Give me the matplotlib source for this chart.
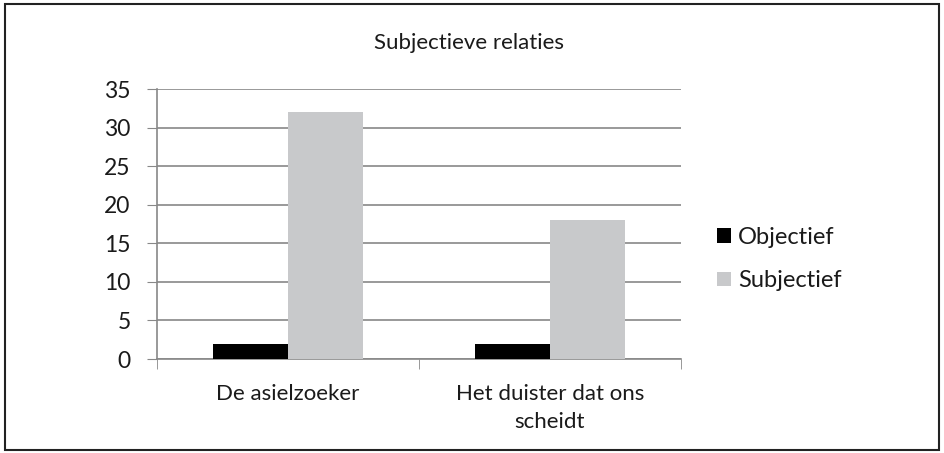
import matplotlib.pyplot as plt
from matplotlib.patches import Rectangle
import numpy as np

plt.rcParams['font.family'] = ['Lato', 'DejaVu Sans']
plt.rcParams['text.color'] = '#1a1a1a'

categories = ['De asielzoeker', 'Het duister dat ons\nscheidt']
objectief = [2, 2]
subjectief = [32, 18]
series_names = ['Objectief', 'Subjectief']
yticks = [0, 5, 10, 15, 20, 25, 30, 35]

fig = plt.figure(figsize=(9.44, 4.53), dpi=100)
ax = fig.add_axes([0.1663, 0.2075, 0.5551, 0.596])

x = np.arange(len(categories))
w = 0.285
ax.bar(x - w / 2, objectief, w, color='black', label=series_names[0], zorder=3)
ax.bar(x + w / 2, subjectief, w, color='#c8c9cb', label=series_names[1], zorder=3)

ax.set_xlim(-0.5, 1.5)
ax.set_ylim(0, 35)
ax.set_yticks(yticks)
ax.set_xticks(x)
ax.set_xticklabels(categories, fontsize=16, linespacing=1.5)
ax.tick_params(axis='y', labelsize=16.5, length=7, color='#888888', pad=12,
               labelcolor='#1a1a1a')
ax.tick_params(axis='x', length=0, pad=18, labelcolor='#1a1a1a')
# boundary ticks between the categories
ax.set_xticks([-0.5, 0.5, 1.5], minor=True)
ax.tick_params(axis='x', which='minor', length=7, color='#888888')
ax.grid(axis='y', color='#888888', linewidth=1.2, zorder=0)

for s in ['top', 'right']:
    ax.spines[s].set_visible(False)
for s in ['left', 'bottom']:
    ax.spines[s].set_color('#888888')
    ax.spines[s].set_linewidth(1.2)

fig.text(0.497, 0.905, 'Subjectieve relaties', fontsize=16, ha='center', va='center')

ax.legend(loc='center left', bbox_to_anchor=(1.05, 0.37), frameon=False,
          fontsize=17, handlelength=0.6, handleheight=0.6, handletextpad=0.3,
          labelspacing=0.95, borderaxespad=0)

fig.patches.append(Rectangle((0.005, 0.007), 0.99, 0.985, transform=fig.transFigure,
                             fill=False, edgecolor='#222222', linewidth=1.5))

fig.savefig('out.png', dpi=100)
